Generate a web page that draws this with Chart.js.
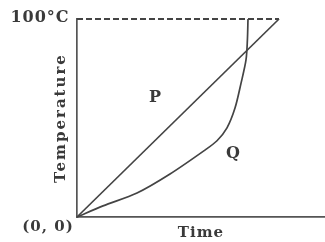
<!DOCTYPE html>
<html>
<head>
<meta charset="utf-8">
<script src="https://cdn.jsdelivr.net/npm/chart.js@4/dist/chart.umd.min.js"></script>
<style>
  html, body { margin: 0; padding: 0; background: #fff; }
  #wrap { width: 325px; height: 242px; }
</style>
</head>
<body>
<div id="wrap"><canvas id="chart"></canvas></div>
<script>
// time in arbitrary units, temperature in degrees C
var pTime = [0, 10.1];
var pTemp = [0, 100];
var qTime = [0, 1.3, 3.0, 4.65, 6.4, 7.0, 7.5, 7.9, 8.2, 8.45, 8.52, 8.55];
var qTemp = [0, 5.6, 12.1, 21.7, 33.8, 38.5, 45, 55, 67.5, 79.3, 89.4, 100];
var boilTime = [0, 10.1];
var boilTemp = [100, 100];

function toPoints(xs, ys) {
    return xs.map(function (x, i) { return { x: x, y: ys[i] }; });
}

var serif = '"DejaVu Serif", "Liberation Serif", serif';
var ink = '#3a3a3a';

var labels = {
    id: 'labels',
    afterDraw: function (chart) {
        var c = chart.ctx;
        var xs = chart.scales.x, ys = chart.scales.y;
        var x0 = xs.getPixelForValue(0), y0 = ys.getPixelForValue(0);
        c.save();
        c.fillStyle = ink;
        c.textAlign = 'center';
        c.textBaseline = 'middle';
        c.letterSpacing = '1px';
        c.font = 'bold 16px ' + serif;
        c.fillText('100°C', x0 - 37, ys.getPixelForValue(100) - 1);
        c.font = 'bold 15px ' + serif;
        c.fillText('(0, 0)', x0 - 29, y0 + 10);
        c.fillText('Time', (xs.left + xs.right) / 2, y0 + 16);
        c.letterSpacing = '0px';
        c.font = 'bold 16px ' + serif;
        c.fillText('P', xs.getPixelForValue(3.9), ys.getPixelForValue(60));
        c.fillText('Q', xs.getPixelForValue(7.8), ys.getPixelForValue(32));
        c.translate(x0 - 16, (ys.top + ys.bottom) / 2);
        c.rotate(-Math.PI / 2);
        c.letterSpacing = '2px';
        c.font = 'bold 15px ' + serif;
        c.fillText('Temperature', 0, 0);
        c.restore();
    }
};

var ctx = document.getElementById('chart').getContext('2d');
var chart = new Chart(ctx, {
    type: 'scatter',
    data: {
        datasets: [{
            label: 'P',
            data: toPoints(pTime, pTemp),
            showLine: true,
            clip: false,
            borderColor: '#444',
            borderWidth: 1.7,
            pointRadius: 0
        }, {
            label: 'Q',
            data: toPoints(qTime, qTemp),
            showLine: true,
            clip: false,
            tension: 0.3,
            borderColor: '#444',
            borderWidth: 1.7,
            pointRadius: 0
        }, {
            label: '100',
            data: toPoints(boilTime, boilTemp),
            showLine: true,
            clip: false,
            borderColor: '#444',
            borderWidth: 1.8,
            borderDash: [6, 3],
            pointRadius: 0
        }]
    },
    options: {
        responsive: true,
        maintainAspectRatio: false,
        animation: false,
        layout: { padding: { left: 77, top: 19, bottom: 25, right: 0 } },
        plugins: { legend: { display: false }, tooltip: { enabled: false } },
        scales: {
            x: {
                type: 'linear', min: 0, max: 12.4,
                grid: { display: false, drawTicks: false },
                ticks: { display: false },
                border: { color: '#555', width: 1.7 },
                afterFit: function (s) { s.height = 0; }
            },
            y: {
                type: 'linear', min: 0, max: 100,
                grid: { display: false, drawTicks: false },
                ticks: { display: false },
                border: { color: '#555', width: 1.7 },
                afterFit: function (s) { s.width = 0; }
            }
        }
    },
    plugins: [labels]
});
</script>
</body>
</html>
